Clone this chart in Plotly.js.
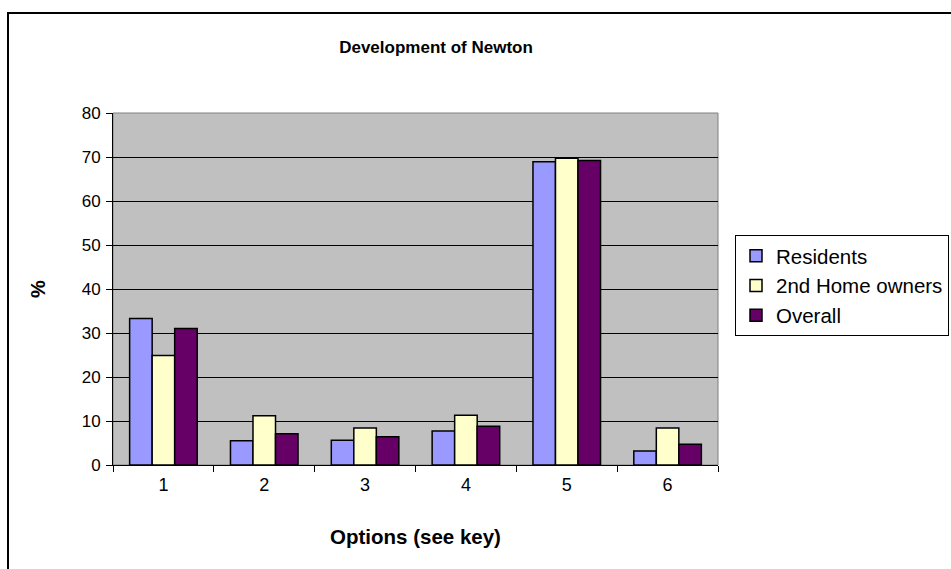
<!DOCTYPE html>
<html>
<head>
<meta charset="utf-8">
<script src="https://cdn.plot.ly/plotly-3.0.1.min.js"></script>
<style>
  html, body { margin: 0; padding: 0; background: #ffffff; }
  #chart { width: 951px; height: 569px; }
</style>
</head>
<body>
<div id="chart"></div>
<script>
// Survey options (see key) and the share of respondents choosing each, in %
const options = ['1', '2', '3', '4', '5', '6'];
const residents = [33.3, 5.5, 5.6, 7.7, 68.9, 3.2];
const secondHomeOwners = [24.9, 11.2, 8.4, 11.3, 69.7, 8.4];
const overall = [31.0, 7.1, 6.4, 8.8, 69.2, 4.7];

const seriesNames = ['Residents', '2nd Home owners', 'Overall'];
const seriesColors = ['#9999ff', '#ffffcc', '#660066'];
const seriesValues = [residents, secondHomeOwners, overall];

const traces = seriesValues.map((vals, i) => ({
  type: 'bar',
  name: seriesNames[i],
  x: options,
  y: vals,
  marker: { color: seriesColors[i], line: { color: '#000000', width: 1.5 } },
  hoverinfo: 'x+y+name'
}));

const font = 'Arial, "Liberation Sans", sans-serif';

const layout = {
  width: 951,
  height: 569,
  paper_bgcolor: '#ffffff',
  plot_bgcolor: '#c0c0c0',
  margin: { l: 113, r: 233, t: 113, b: 104, pad: 0, autoexpand: false },
  barmode: 'group',
  bargap: 0.33,
  bargroupgap: 0,
  font: { family: font, color: '#000000', size: 17 },
  title: {
    text: '<b>Development of Newton</b>',
    font: { family: font, size: 17, color: '#000000' },
    x: 436 / 951, xref: 'container', xanchor: 'center',
    y: 1 - 47 / 569, yref: 'container', yanchor: 'middle'
  },
  xaxis: {
    type: 'category',
    tickson: 'boundaries',
    ticks: 'outside',
    ticklen: 6,
    tickcolor: '#000000',
    tickfont: { family: font, size: 18 },
    ticklabelstandoff: 3,
    showline: true,
    linecolor: '#000000',
    linewidth: 1,
    showgrid: false,
    zeroline: false,
    title: {
      text: '<b>Options (see key)</b>',
      font: { family: font, size: 20.5 },
      standoff: 36
    }
  },
  yaxis: {
    range: [0, 80],
    dtick: 10,
    tick0: 0,
    ticks: 'outside',
    ticklen: 6,
    tickcolor: '#000000',
    tickfont: { family: font, size: 17 },
    ticklabelstandoff: 2,
    showline: true,
    linecolor: '#000000',
    linewidth: 1,
    showgrid: true,
    gridcolor: '#000000',
    gridwidth: 1,
    zeroline: false,
    title: {
      text: '<b>%</b>',
      font: { family: font, size: 20 },
      standoff: 30
    }
  },
  legend: {
    xref: 'container',
    yref: 'container',
    x: 735 / 951,
    xanchor: 'left',
    y: 1 - 235 / 569,
    yanchor: 'top',
    bgcolor: '#ffffff',
    bordercolor: '#000000',
    borderwidth: 1,
    font: { family: font, size: 20.5 },
    itemwidth: 30,
    tracegroupgap: 0
  },
  shapes: [
    // grey frame along the top and right of the plot area
    {
      type: 'rect', xref: 'paper', yref: 'paper',
      x0: 0, x1: 1, y0: 0, y1: 1,
      line: { color: '#808080', width: 1 }, layer: 'below'
    },
    // outer chart border
    {
      type: 'rect', xref: 'paper', yref: 'paper',
      x0: -105 / 605, x1: 860 / 605,
      y0: -120 / 352, y1: 1 + 100 / 352,
      line: { color: '#000000', width: 2 }, layer: 'above'
    }
  ]
};

Plotly.newPlot('chart', traces, layout, { displayModeBar: false, staticPlot: true });
</script>
</body>
</html>
